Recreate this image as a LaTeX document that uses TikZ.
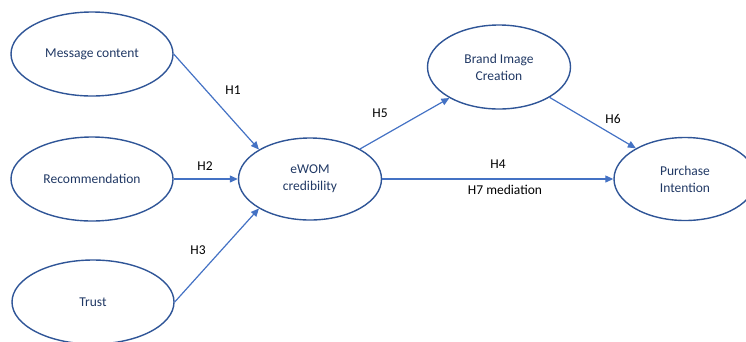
\documentclass[tikz,border=0pt]{standalone}
\usepackage{fontspec}
\setmainfont{Carlito}
\usetikzlibrary{shapes.geometric,arrows.meta}
\definecolor{ellline}{HTML}{2F5597}
\definecolor{arrline}{HTML}{4472C4}
\definecolor{elltext}{HTML}{203864}
\tikzset{
  construct/.style={ellipse, draw=ellline, line width=1.4pt, inner sep=0pt,
    text=elltext, align=center, font=\fontsize{13.5}{17}\selectfont},
  hyp/.style={text=black, inner sep=0pt, font=\fontsize{13.5}{17}\selectfont},
  link/.style={draw=arrline, line width=1.2pt, -{Triangle[length=8pt,width=7pt]}},
}
\begin{document}
\begin{tikzpicture}[x=1pt,y=-1pt]
\useasboundingbox (0,0) rectangle (746,341);
\clip (0,0) rectangle (746,341);
\node[construct, minimum width=162pt, minimum height=84pt] (msg) at (92,54) {Message content};
\node[construct, minimum width=162pt, minimum height=84pt] (rec) at (92,179) {Recommendation};
\node[construct, minimum width=162pt, minimum height=84pt] (trust) at (93,302) {Trust};
\node[construct, minimum width=143pt, minimum height=82pt] (ewom) at (310,179) {eWOM\\credibility};
\node[construct, minimum width=143pt, minimum height=84pt] (brand) at (499,67) {Brand Image\\Creation};
\node[construct, minimum width=142pt, minimum height=83pt] (pi) at (685,179) {Purchase\\Intention};

\draw[link] (msg.east) -- (ewom.150);
\draw[link] (rec.east) -- (ewom.west);
\draw[link] (trust.east) -- (ewom.210);
\draw[link] (ewom.31) -- (brand.212);
\draw[link] (brand.329) -- (pi.148);
\draw[link] (ewom.east) -- (pi.west);

\node[hyp] (h1) at (233,90) {H1};
\node[hyp] (h2) at (205,166) {H2};
\node[hyp] (h3) at (198,250) {H3};
\node[hyp] (h5) at (380,113) {H5};
\node[hyp] (h6) at (613,119) {H6};
\node[hyp] (h4) at (498,164) {H4};
\node[hyp] (h7) at (505,190) {H7 mediation};
\end{tikzpicture}
\end{document}
